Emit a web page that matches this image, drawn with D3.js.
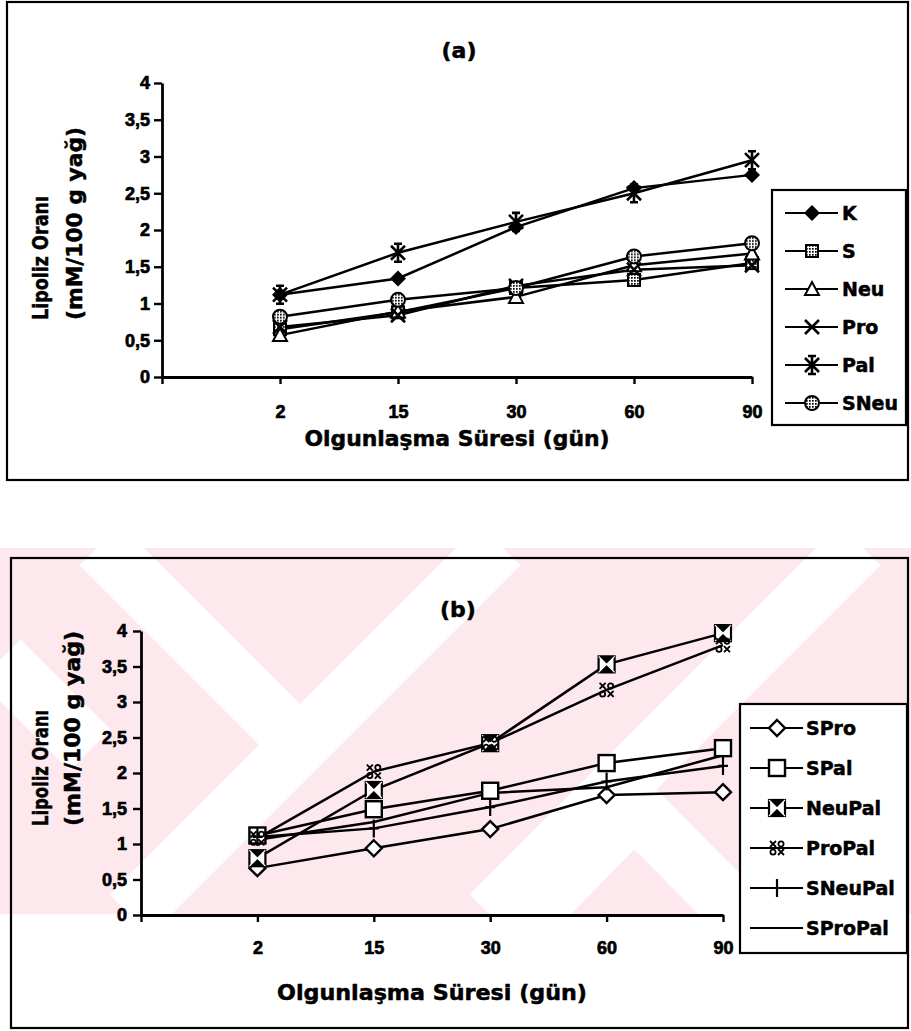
<!DOCTYPE html>
<html>
<head>
<meta charset="utf-8">
<script src="https://cdn.jsdelivr.net/npm/d3@7"></script>
<style>
  body { margin: 0; background: #fff; }
  text { font-family: "DejaVu Sans", sans-serif; font-weight: bold; fill: #000; stroke: #000; stroke-width: 0.5px; }
</style>
</head>
<body>
<svg id="chart" width="911" height="1031"></svg>
<script>
// categories and tick labels
const days = ["2", "15", "30", "60", "90"];
const yTickValues = [0, 0.5, 1, 1.5, 2, 2.5, 3, 3.5, 4];
const yTickLabels = ["0", "0,5", "1", "1,5", "2", "2,5", "3", "3,5", "4"];

// panel (a)
const namesA = ["K", "S", "Neu", "Pro", "Pal", "SNeu"];
const valK    = [1.12, 1.34, 2.04, 2.57, 2.75];
const valS    = [0.65, 0.88, 1.21, 1.32, 1.55];
const valNeu  = [0.57, 0.89, 1.09, 1.52, 1.68];
const valPro  = [0.68, 0.84, 1.24, 1.46, 1.52];
const valPal  = [1.12, 1.69, 2.11, 2.50, 2.95];
const valSNeu = [0.82, 1.05, 1.21, 1.64, 1.82];

// panel (b)
const namesB = ["SPro", "SPal", "NeuPal", "ProPal", "SNeuPal", "SProPal"];
const valSPro    = [0.66, 0.94, 1.21, 1.69, 1.73];
const valSPal    = [1.12, 1.49, 1.75, 2.14, 2.35];
const valNeuPal  = [0.80, 1.76, 2.42, 3.53, 3.97];
const valProPal  = [1.08, 2.02, 2.42, 3.17, 3.80];
const valSNeuPal = [1.10, 1.22, 1.52, 1.88, 2.10];
const valSProPal = [1.06, 1.31, 1.72, 1.80, 2.25];

const yTitle1 = "Lipoliz Oranı";
const yTitle2 = "(mM/100 g yağ)";
const xTitle = "Olgunlaşma Süresi (gün)";

const svg = d3.select("#chart");

// patterns for the hatched markers
const defs = svg.append("defs");
const pat = defs.append("pattern").attr("id", "dots")
    .attr("width", 3).attr("height", 3).attr("patternUnits", "userSpaceOnUse");
pat.append("rect").attr("width", 3).attr("height", 3).attr("fill", "#fff");
pat.append("rect").attr("width", 1.7).attr("height", 1.7).attr("fill", "#000");

// marker drawing
function marker(g, type, x, y) {
    const m = g.append("g").attr("transform", `translate(${x},${y})`);
    const st = { stroke: "#000", "stroke-width": 2 };
    const apply = (sel, o) => { Object.entries(o).forEach(([k, v]) => sel.attr(k, v)); return sel; };
    if (type === "diamondFill") {
        m.append("path").attr("d", "M0,-8L8,0L0,8L-8,0Z").attr("fill", "#000");
    } else if (type === "squareDots") {
        apply(m.append("rect").attr("x", -6).attr("y", -6).attr("width", 12).attr("height", 12).attr("fill", "url(#dots)"), st);
    } else if (type === "triangle") {
        apply(m.append("path").attr("d", "M0,-7L7,6L-7,6Z").attr("fill", "#fff"), st);
    } else if (type === "x") {
        apply(m.append("path").attr("d", "M-7,-7L7,7M7,-7L-7,7").attr("fill", "none"), { stroke: "#000", "stroke-width": 2.6 });
    } else if (type === "star") {
        apply(m.append("path").attr("d", "M-7,-7L7,7M7,-7L-7,7M0,-9V9M-4,-9H4M-4,9H4").attr("fill", "none"), { stroke: "#000", "stroke-width": 2.6 });
    } else if (type === "circleDots") {
        apply(m.append("circle").attr("r", 7).attr("fill", "url(#dots)"), st);
    } else if (type === "diamondOpen") {
        apply(m.append("path").attr("d", "M0,-8L8,0L0,8L-8,0Z").attr("fill", "#fff"), { stroke: "#000", "stroke-width": 2.4 });
    } else if (type === "squareOpen") {
        apply(m.append("rect").attr("x", -8).attr("y", -8).attr("width", 16).attr("height", 16).attr("fill", "#fff"), { stroke: "#000", "stroke-width": 2.4 });
    } else if (type === "hourglass") {
        apply(m.append("rect").attr("x", -8).attr("y", -8).attr("width", 16).attr("height", 16).attr("fill", "#fff"), { stroke: "#000", "stroke-width": 2.2 });
        m.append("path").attr("d", "M-8,-8L8,-8L0,0ZM-8,8L8,8L0,0Z").attr("fill", "#000");
        apply(m.append("path").attr("d", "M-8,-8L8,8M8,-8L-8,8").attr("fill", "none"), { stroke: "#fff", "stroke-width": 1.2 });
    } else if (type === "xo") {
        [[-4, -4, "x"], [4, -4, "o"], [-4, 4, "o"], [4, 4, "x"]].forEach(([dx, dy, k]) => {
            if (k === "x") {
                apply(m.append("path").attr("d", `M${dx - 3},${dy - 3}L${dx + 3},${dy + 3}M${dx + 3},${dy - 3}L${dx - 3},${dy + 3}`), { stroke: "#000", "stroke-width": 1.9 });
            } else {
                apply(m.append("circle").attr("cx", dx).attr("cy", dy).attr("r", 2.6).attr("fill", "none"), { stroke: "#000", "stroke-width": 1.8 });
            }
        });
    } else if (type === "plus") {
        apply(m.append("path").attr("d", "M0,-9V9M-5,0H5").attr("fill", "none"), { stroke: "#000", "stroke-width": 2.2 });
    }
}

function drawPanel(p) {
    const g = svg.append("g");

    // frame
    g.append("rect").attr("x", p.frame[0]).attr("y", p.frame[1])
        .attr("width", p.frame[2] - p.frame[0]).attr("height", p.frame[3] - p.frame[1])
        .attr("fill", "none").attr("stroke", "#000").attr("stroke-width", 2.2);

    const x = d3.scalePoint().domain([""].concat(days)).range([p.x0, p.x1]);
    const y = d3.scaleLinear().domain([0, 4]).range([p.y0, p.y1]);

    const yAxis = g.append("g").attr("transform", `translate(${p.x0},0)`)
        .call(d3.axisLeft(y).tickValues(yTickValues).tickFormat((d, i) => yTickLabels[i])
            .tickSize(8).tickSizeOuter(0).tickPadding(p.yPad));
    const xAxis = g.append("g").attr("transform", `translate(0,${p.y0})`)
        .call(d3.axisBottom(x).tickSize(7).tickSizeOuter(0).tickPadding(p.xPad));
    [yAxis, xAxis].forEach(a => {
        a.select(".domain").attr("stroke-width", 2.8);
        a.selectAll(".tick line").attr("stroke-width", 2.4);
        a.selectAll(".tick text")
            .style("font-family", '"Liberation Sans", Arial, sans-serif')
            .style("font-size", "18px")
            .style("font-weight", "bold")
            .style("stroke-width", "0.7px")
            .attr("fill", "#000");
    });

    // titles
    g.append("text").attr("x", p.titleX).attr("y", p.titleY)
        .attr("text-anchor", "middle").attr("font-size", 22).text(p.title);
    g.append("text").attr("x", p.xTitleX).attr("y", p.xTitleY)
        .attr("text-anchor", "middle").attr("font-size", 21)
        .attr("textLength", p.xTitleLen).attr("lengthAdjust", "spacingAndGlyphs").text(xTitle);
    [[yTitle1, p.yT1x, p.yT1len], [yTitle2, p.yT2x, p.yT2len]].forEach(([t, tx, len]) => {
        g.append("text").attr("transform", `translate(${tx},${p.yTitleStart}) rotate(-90)`)
            .attr("text-anchor", "start").attr("font-size", 21)
            .attr("textLength", len).attr("lengthAdjust", "spacingAndGlyphs").text(t);
    });

    const line = d3.line().x((d, i) => x(days[i])).y(d => y(d));
    p.series.forEach(s => {
        g.append("path").datum(s.values).attr("d", line)
            .attr("fill", "none").attr("stroke", "#000").attr("stroke-width", 2.5);
    });
    p.series.forEach(s => {
        if (!s.marker) return;
        s.values.forEach((v, i) => marker(g, s.marker, x(days[i]), y(v)));
    });

    // legend
    const L = p.legend;
    g.append("rect").attr("x", L.x).attr("y", L.y).attr("width", L.w).attr("height", L.h)
        .attr("fill", "#fff").attr("stroke", "#000").attr("stroke-width", 2.2);
    p.series.forEach((s, i) => {
        const ry = L.y + L.first + i * L.step;
        g.append("line").attr("x1", L.x0).attr("x2", L.x1).attr("y1", ry).attr("y2", ry)
            .attr("stroke", "#000").attr("stroke-width", 2.2);
        if (s.marker) marker(g, s.marker, L.mx, ry);
        g.append("text").attr("x", L.tx).attr("y", ry).attr("dy", "0.36em")
            .attr("font-size", 19).text(s.name);
    });
}

// faint watermark behind panel (b)
const wm = svg.append("g");
defs.append("clipPath").attr("id", "wmclip").append("rect")
    .attr("x", 0).attr("y", 548).attr("width", 911).attr("height", 366);
const wmg = wm.append("g").attr("clip-path", "url(#wmclip)");
wmg.append("rect").attr("x", 0).attr("y", 548).attr("width", 911).attr("height", 366).attr("fill", "#fde8ed");
const bands = [
    [[100, 545], [300, 745]],
    [[500, 545], [130, 915]],
    [[860, 545], [490, 915]],
    [[520, 925], [634, 808], [750, 925]],
    [[0, 660], [90, 750]]
];
bands.forEach(b => {
    wmg.append("path").attr("d", d3.line()(b)).attr("fill", "none")
        .attr("stroke", "#fff").attr("stroke-width", 58).attr("stroke-linejoin", "miter");
});

drawPanel({
    frame: [7, 2, 908, 480],
    x0: 162, x1: 752, y0: 377, y1: 83, yPad: 4, xPad: 21,
    title: "(a)", titleX: 459, titleY: 58,
    xTitleX: 457, xTitleY: 446, xTitleLen: 305,
    yT1x: 48, yT2x: 82, yT1len: 124, yT2len: 193, yTitleStart: 320,
    series: [
        { name: namesA[0], values: valK, marker: "diamondFill" },
        { name: namesA[1], values: valS, marker: "squareDots" },
        { name: namesA[2], values: valNeu, marker: "triangle" },
        { name: namesA[3], values: valPro, marker: "x" },
        { name: namesA[4], values: valPal, marker: "star" },
        { name: namesA[5], values: valSNeu, marker: "circleDots" }
    ],
    legend: { x: 772, y: 190, w: 134, h: 235, first: 23, step: 38, x0: 785, x1: 838, mx: 812, tx: 842 }
});

drawPanel({
    frame: [11, 558, 908, 1028],
    x0: 141, x1: 723, y0: 915, y1: 631, yPad: 6, xPad: 19,
    title: "(b)", titleX: 458, titleY: 617,
    xTitleX: 432, xTitleY: 1000, xTitleLen: 310,
    yT1x: 48, yT2x: 80, yT1len: 116, yT2len: 195, yTitleStart: 826,
    series: [
        { name: namesB[0], values: valSPro, marker: "diamondOpen" },
        { name: namesB[1], values: valSPal, marker: "squareOpen" },
        { name: namesB[2], values: valNeuPal, marker: "hourglass" },
        { name: namesB[3], values: valProPal, marker: "xo" },
        { name: namesB[4], values: valSNeuPal, marker: "plus" },
        { name: namesB[5], values: valSProPal, marker: null }
    ],
    legend: { x: 740, y: 704, w: 167, h: 249, first: 24, step: 40, x0: 750, x1: 803, mx: 777, tx: 806 }
});
</script>
</body>
</html>
